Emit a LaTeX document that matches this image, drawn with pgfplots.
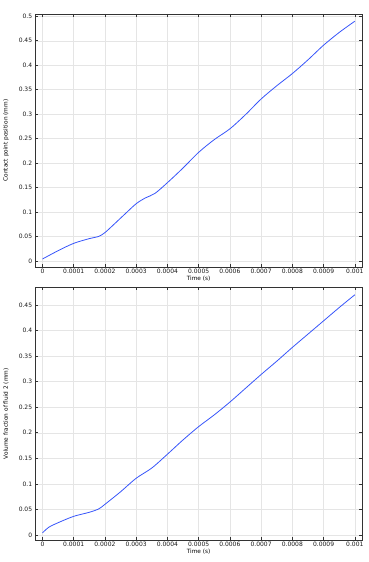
\documentclass[border=0pt]{standalone}
\usepackage{fontspec}
\setmainfont{DejaVu Sans}
\usepackage{pgfplots}
\pgfplotsset{compat=1.18}
\definecolor{curve}{RGB}{55,85,250}
\pgfplotsset{
  comsol/.style={
    scale only axis, width=327pt,
    xmin=-0.0000234, xmax=0.0010234,
    scaled x ticks=false, scaled y ticks=false,
    xtick={0,0.0001,0.0002,0.0003,0.0004,0.0005,0.0006,0.0007,0.0008,0.0009,0.001},
    xticklabels={0,0.0001,0.0002,0.0003,0.0004,0.0005,0.0006,0.0007,0.0008,0.0009,0.001},
    ytick={0,0.05,0.1,0.15,0.2,0.25,0.3,0.35,0.4,0.45,0.5},
    yticklabels={0,0.05,0.1,0.15,0.2,0.25,0.3,0.35,0.4,0.45,0.5},
    tick label style={font=\fontsize{6}{7}\selectfont, text=black!90},
    label style={font=\fontsize{5.8}{7}\selectfont},
    xticklabel style={yshift=1pt},
    yticklabel style={xshift=0.5pt},
    grid=major, major grid style={black!10, line width=0.5pt},
    axis line style={black!80, line width=0.8pt},
    major tick style={black!80, line width=0.6pt},
    major tick length=3pt, tick align=inside,
    xlabel={Time (s)},
    xlabel style={at={(axis description cs:0.5,-0.045)}, anchor=center},
  }
}
\begin{document}
\begin{tikzpicture}[x=1pt,y=1pt]
\path (0,0) rectangle (367,562);
\begin{axis}[comsol, at={(34pt,295pt)}, anchor=south west, height=253pt,
  ymin=-0.0123, ymax=0.5047,
  ylabel={Contact point position (mm)},
  ylabel style={at={(axis description cs:-0.0887,0.5)}, anchor=center}]
\addplot[curve, line width=0.8pt, smooth] coordinates {
(0,0.004) (0.00005,0.021) (0.0001,0.036) (0.00015,0.0457) (0.00018,0.0502)
(0.0002,0.0580) (0.00023,0.0755) (0.00026,0.0935) (0.0003,0.1170) (0.00033,0.1290) (0.00036,0.1380)
(0.0004,0.160) (0.00045,0.190) (0.0005,0.222) (0.00055,0.248) (0.0006,0.270)
(0.00065,0.299) (0.0007,0.331) (0.00075,0.358) (0.0008,0.383) (0.00085,0.411)
(0.0009,0.441) (0.00095,0.467) (0.001,0.490)
};
\end{axis}
\begin{axis}[comsol, at={(34pt,22pt)}, anchor=south west, height=252.7pt,
  ymin=-0.0098, ymax=0.4846,
  ylabel={Volume fraction of fluid 2 (mm)},
  ylabel style={at={(axis description cs:-0.0887,0.5)}, anchor=center}]
\addplot[curve, line width=0.8pt, smooth] coordinates {
(0,0.004) (0.00002,0.015) (0.00005,0.024) (0.0001,0.0365) (0.00015,0.0444)
(0.00018,0.051) (0.0002,0.0600) (0.00025,0.0845) (0.0003,0.111) (0.00035,0.131)
(0.0004,0.158) (0.00045,0.186) (0.0005,0.212) (0.00055,0.235) (0.0006,0.260)
(0.00065,0.287) (0.0007,0.314) (0.00075,0.340) (0.0008,0.367) (0.00085,0.393)
(0.0009,0.419) (0.00095,0.445) (0.001,0.470)
};
\end{axis}
\end{tikzpicture}
\end{document}
